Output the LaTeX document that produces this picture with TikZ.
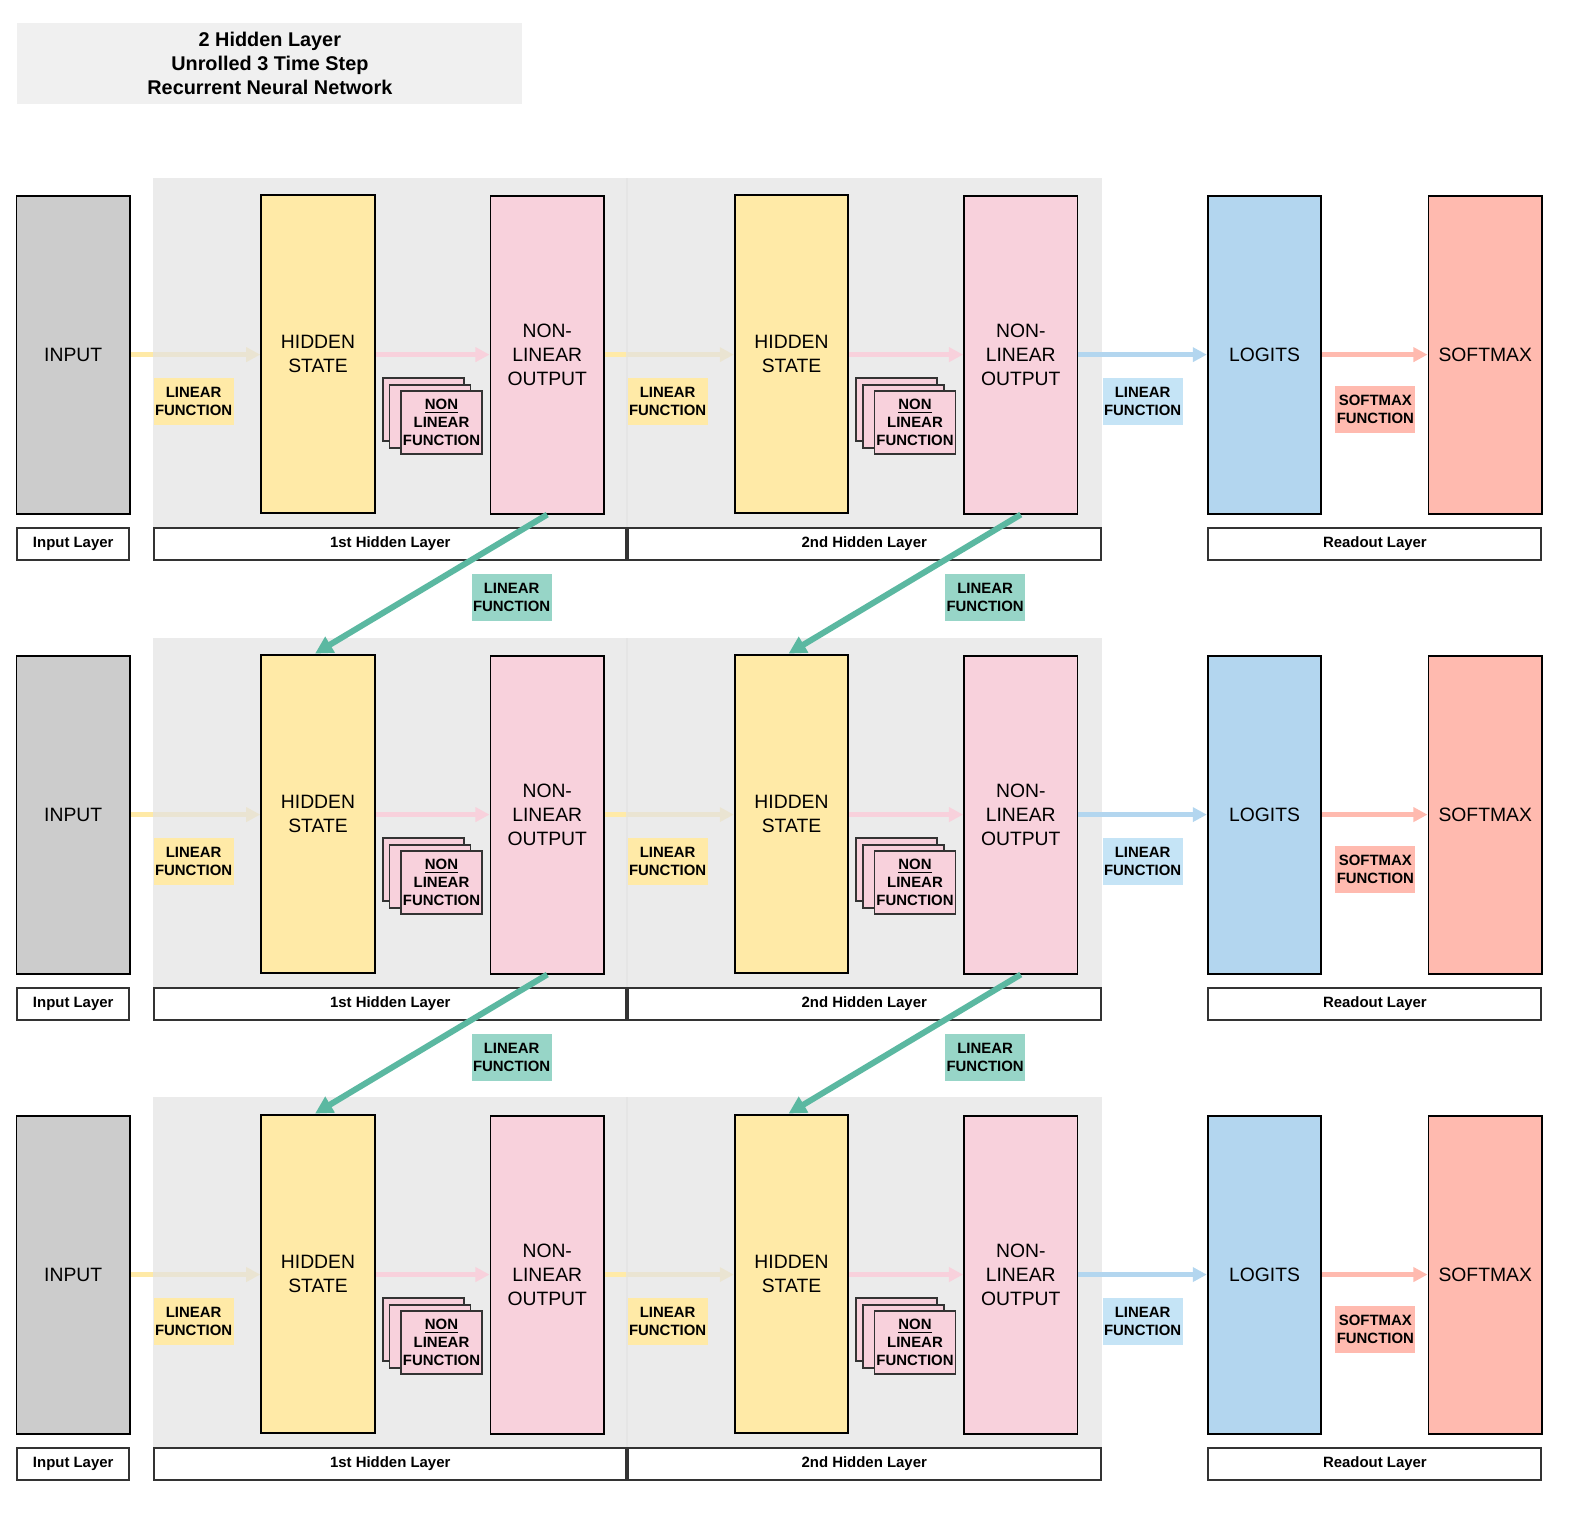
\documentclass[tikz,border=0pt]{standalone}
\usepackage{fontspec}
\setmainfont{Liberation Sans}
\usetikzlibrary{arrows.meta}
\pgfdeclarelayer{arrlow}
\pgfdeclarelayer{panela}
\pgfdeclarelayer{arrmid}
\pgfdeclarelayer{panelb}
\pgfsetlayers{arrlow,panela,arrmid,panelb,main}
\definecolor{inputgray}{HTML}{CCCCCC}
\definecolor{hidyellow}{HTML}{FFEAA7}
\definecolor{outpink}{HTML}{F8D1DC}
\definecolor{logblue}{HTML}{B3D6EF}
\definecolor{linblue}{HTML}{C5E4F6}
\definecolor{softred}{HTML}{FFBAAF}
\definecolor{tealfill}{HTML}{97D5C7}
\definecolor{tealline}{HTML}{5BB8A1}
\definecolor{panelgray}{HTML}{E3E3E3}
\definecolor{titlegray}{HTML}{F0F0F0}
\definecolor{edgegray}{HTML}{333333}
\begin{document}
\begin{tikzpicture}[x=0.020064cm,y=-0.020064cm,
  unit/.style={draw=black,line width=1.1pt,minimum width=2.27cm,minimum height=6.36cm,
    inner sep=0pt,align=center,font=\fontsize{11}{13.7}\selectfont},
  layerlbl/.style={draw=edgegray,line width=1.1pt,fill=white,minimum height=0.64cm,
    inner sep=0pt,font=\bfseries\fontsize{8.5}{10}\selectfont},
  fnlbl/.style={minimum width=1.6cm,minimum height=0.94cm,inner sep=0pt,align=center,
    font=\bfseries\fontsize{8.5}{10.3}\selectfont},
  nlcard/.style={draw=edgegray,line width=1.1pt,fill=outpink,minimum width=1.62cm,
    minimum height=1.26cm,inner sep=0pt,align=center,font=\bfseries\fontsize{8.5}{10.3}\selectfont},
  flow/.style={line width=2.8pt,-{Triangle[length=8pt,width=8pt]}},
  recur/.style={line width=3.4pt,color=tealline,-{Triangle[length=10pt,width=10pt]}},
  panel/.style={fill=panelgray,fill opacity=0.72}]
  \useasboundingbox (0,0) rectangle (1568,1508);

  % title
  \node[fill=titlegray,minimum width=10.1cm,minimum height=1.63cm,align=center,
    font=\bfseries\fontsize{11.3}{13.6}\selectfont] (title) at (269,63.5)
    {2 Hidden Layer\\Unrolled 3 Time Step\\Recurrent Neural Network};

  % one row per time step
  \foreach \r/\y in {1/353.5,2/812,3/1270.5} {
    \node[unit,fill=inputgray] (in\r) at (73,\y) {INPUT};
    \node[unit,fill=hidyellow] (ha\r) at (317,\y-1) {HIDDEN\\STATE};
    \node[unit,fill=outpink] (oa\r) at (545.5,\y) {NON-\\LINEAR\\OUTPUT};
    \node[unit,fill=hidyellow] (hb\r) at (789,\y-1) {HIDDEN\\STATE};
    \node[unit,fill=outpink] (ob\r) at (1017.5,\y) {NON-\\LINEAR\\OUTPUT};
    \node[unit,fill=logblue] (lg\r) at (1260.5,\y) {LOGITS};
    \node[unit,fill=softred] (sm\r) at (1480.5,\y) {SOFTMAX};

    \begin{pgfonlayer}{arrlow}
      \draw[flow,hidyellow] (in\r) -- (ha\r.west|-in\r);
    \end{pgfonlayer}
    \begin{pgfonlayer}{panela}
      \fill[panel] (153,\y-176.5) rectangle (626,\y+171.5);
    \end{pgfonlayer}
    \begin{pgfonlayer}{arrmid}
      \draw[flow,outpink] (ha\r.east|-oa\r) -- (oa\r);
      \draw[flow,hidyellow] (oa\r) -- (hb\r.west|-oa\r);
    \end{pgfonlayer}
    \begin{pgfonlayer}{panelb}
      \fill[panel] (624,\y-176.5) rectangle (1098,\y+171.5);
    \end{pgfonlayer}
    \draw[flow,outpink] (hb\r.east|-ob\r) -- (ob\r);
    \draw[flow,logblue] (ob\r) -- (lg\r);
    \draw[flow,softred] (lg\r) -- (sm\r);

    % function labels
    \node[fnlbl,fill=hidyellow] (lfa\r) at (193,\y+47) {LINEAR\\FUNCTION};
    \node[fnlbl,fill=hidyellow] (lfb\r) at (665.5,\y+47) {LINEAR\\FUNCTION};
    \node[fnlbl,fill=linblue] (lfc\r) at (1139,\y+47) {LINEAR\\FUNCTION};
    \node[fnlbl,fill=softred] (sf\r) at (1371,\y+55) {SOFTMAX\\FUNCTION};

    % non linear cards
    \node[nlcard] (nla\r x) at (422.1,\y+54.7) {};
    \node[nlcard] (nla\r y) at (428.6,\y+61.7) {};
    \node[nlcard] (nla\r) at (440.1,\y+67.6) {\underline{NON}\\LINEAR\\FUNCTION};
    \node[nlcard] (nlb\r x) at (894.1,\y+54.7) {};
    \node[nlcard] (nlb\r y) at (900.6,\y+61.7) {};
    \node[nlcard] (nlb\r) at (912.1,\y+67.6) {\underline{NON}\\LINEAR\\FUNCTION};

    % layer names
    \node[layerlbl,minimum width=2.24cm] (li\r) at (73,\y+188.5) {Input Layer};
    \node[layerlbl,minimum width=9.44cm] (la\r) at (389,\y+188.5) {1st Hidden Layer};
    \node[layerlbl,minimum width=9.46cm] (lb\r) at (861.5,\y+188.5) {2nd Hidden Layer};
    \node[layerlbl,minimum width=6.66cm] (lr\r) at (1370.5,\y+188.5) {Readout Layer};
  }

  % recurrent links
  \foreach \r/\s/\y in {1/2/353.5,2/3/812} {
    \node[fnlbl,fill=tealfill] (tla\r) at (510,\y+242) {LINEAR\\FUNCTION};
    \node[fnlbl,fill=tealfill] (tlb\r) at (982,\y+242) {LINEAR\\FUNCTION};
    \draw[recur] (oa\r.south) -- ([xshift=-0.06cm]ha\s.north);
    \draw[recur] (ob\r.south) -- ([xshift=-0.06cm]hb\s.north);
  }
\end{tikzpicture}
\end{document}
